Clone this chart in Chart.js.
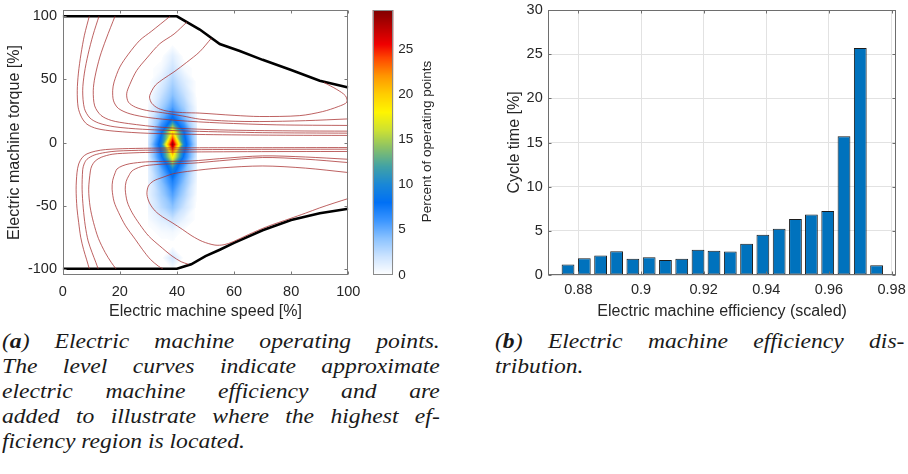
<!DOCTYPE html>
<html>
<head>
<meta charset="utf-8">
<script src="https://cdn.jsdelivr.net/npm/chart.js@4.4.1/dist/chart.umd.min.js"></script>
<style>
  html, body { margin: 0; padding: 0; background: #fff; overflow: hidden; }
  body { width: 908px; height: 474px; position: relative; }
  canvas { position: absolute; top: 0; }
  #mapChart { left: 0; }
  #scaleChart { left: 360px; }
  #histChart { left: 470px; }
  .caption {
    position: absolute;
    font-family: 'Liberation Serif', 'Times New Roman', serif;
    font-style: italic;
    font-size: 20px;
    line-height: 25px;
    color: #1a1a1a;
    transform: scaleX(1.18);
    transform-origin: 0 0;
  }
  .caption .j { text-align: justify; text-align-last: justify; }
</style>
</head>
<body>
<canvas id="mapChart" width="362" height="320"></canvas>
<canvas id="scaleChart" width="100" height="320"></canvas>
<canvas id="histChart" width="438" height="320"></canvas>

<div class="caption" style="left:2px; top:329px; width:371px;">
  <div class="j">(<b>a</b>) Electric machine operating points.</div>
  <div class="j">The level curves indicate approximate</div>
  <div class="j">electric machine efficiency and are</div>
  <div class="j">added to illustrate where the highest ef-</div>
  <div>ficiency region is located.</div>
</div>
<div class="caption" style="left:495px; top:329px; width:347px;">
  <div class="j">(<b>b</b>) Electric machine efficiency dis-</div>
  <div>tribution.</div>
</div>

<script>
// axis ticks
const speedTicks = [0, 20, 40, 60, 80, 100];
const torqueTicks = [-100, -50, 0, 50, 100];
const percentTicks = [0, 5, 10, 15, 20, 25];
const efficiencyTicks = [0.88, 0.9, 0.92, 0.94, 0.96, 0.98];
const cycleTicks = [0, 5, 10, 15, 20, 25, 30];

// torque limits [speed %, torque %]
const torqueLimitUpper = [[0, 100], [40, 100], [48, 89.5], [55, 78], [62, 72.5], [70, 65.5], [80, 57.5], [90, 49], [100, 43.5]];
const torqueLimitLower = [[0, -100], [40, -100], [45, -96.5], [50, -90], [55, -85], [60, -79.5], [70, -69.5], [80, -61.5], [90, -56], [100, -52.5]];

// efficiency level curves [speed %, torque %]
const levelUp1 = [[9.3, 100], [7.6, 85], [6.4, 70], [5.5, 55], [5.1, 41], [5.4, 28], [6.6, 20], [8.5, 14.5], [12, 11], [18, 9], [30, 7.3], [50, 6.3], [75, 5.8], [100, 5.6]];
const levelUp2 = [[12.7, 100], [10.6, 85], [8.9, 70], [7.6, 55], [7, 41], [7.6, 27], [9.5, 19.5], [12.5, 15.5], [18, 12.5], [28, 10.5], [45, 9], [70, 7.8], [100, 7.4]];
const levelUp3 = [[18.3, 100], [15.2, 82], [13, 67.7], [11.3, 52], [10.7, 41], [11.2, 29], [13.4, 21.5], [17, 17.5], [23, 15], [35, 12], [55, 10], [80, 9.2], [100, 9]];
const levelUp4 = [[37.6, 100], [31, 88], [27, 81], [23, 70], [20, 59.8], [18, 48], [17.5, 41.3], [17.8, 33], [19.5, 27], [23.6, 22.7], [30, 19.8], [40, 17.5], [55, 15.5], [75, 14], [100, 13.5]];
const levelUp5 = [[43.5, 95.5], [39, 86], [34, 78.3], [29.5, 67], [25.9, 57], [23.5, 46], [22.4, 38.6], [23, 32], [25.5, 28], [29.4, 25.4], [35, 23.6], [42, 21], [48, 18.5], [58, 17], [69, 16.6], [85, 17.3], [100, 18.7]];
const levelUp6 = [[52, 82.5], [48, 72], [43.4, 63.5], [39, 56], [35.2, 50.3], [32.5, 45.5], [31.2, 41], [30.4, 36], [31.2, 31], [33.5, 27], [37, 24.7], [42, 23.7], [48, 23.3], [60, 21.5], [69, 20.6], [83, 21.3], [91, 24.5], [96.5, 28.5], [99.5, 32], [99, 37], [96, 42], [91.5, 47.5]];
const levelLow1 = [[100, -4], [70, -4.1], [45, -4.2], [23, -4.8], [15, -5.6], [11.4, -6.9], [8.5, -9], [6.8, -12], [5.6, -17], [5, -24], [4.7, -37], [5, -52], [5.6, -63.5], [6.3, -75], [7.3, -84.7], [8.4, -93], [9.3, -100]];
const levelLow2 = [[100, -5.3], [60, -5.5], [28.9, -6.1], [19, -6.8], [14.9, -7.9], [11, -10], [8.5, -13.3], [7.5, -17], [7, -21.5], [6.8, -37], [7.2, -52], [7.9, -66], [8.9, -78], [10.3, -87.3], [11.6, -95], [12.4, -100]];
const levelLow3 = [[100, -7.1], [60, -7.3], [28.9, -7.9], [21, -8.6], [17.3, -9.3], [13.5, -11.7], [11.4, -14.6], [10.2, -18.5], [9.7, -22.5], [9.1, -37], [9.6, -51], [10.8, -63.5], [12.5, -76], [14.9, -87.3], [17, -95], [18.6, -100]];
const levelLow4 = [[100, -13.3], [85, -11.5], [70, -10.6], [55, -12.8], [45.3, -14.6], [35, -15], [28.9, -15.4], [23.5, -16.8], [20.8, -18.6], [19, -21], [18.4, -23.8], [17.5, -30], [17.3, -37], [18, -47], [19.6, -55.6], [22, -66], [25.4, -76.7], [28, -85], [30.7, -92.6], [33.5, -98], [35, -100]];
const levelLow5 = [[100, -15.9], [85, -13.2], [70, -11.9], [55, -14.5], [45.3, -16.4], [34.8, -17.2], [29, -18.3], [26.6, -19.8], [24.3, -22.5], [23.1, -26.5], [22.2, -31], [21.9, -37], [22.6, -47], [24.3, -55.6], [27, -65], [30.1, -74.1], [34, -82], [38.3, -90], [41.5, -94.5], [44, -96.5]];
const levelLow6 = [[100, -23.8], [85, -20.3], [70, -18.6], [55, -20.2], [45.3, -22.5], [39, -24.6], [34.8, -27.8], [31.8, -30.5], [30, -34.5], [29.5, -41], [30.4, -48], [32.4, -54.3], [35, -59], [38.3, -63.5], [42, -69], [45.3, -74.1], [49, -78.5], [53.3, -81.3], [56.5, -81], [59.7, -78.6], [65, -73], [71.4, -66.8], [79.6, -60.3], [85, -56], [90, -51.8], [95, -48], [100, -44.4]];

// operating point density grid: speed nodes, torque nodes, percent of points
const heatSpeed = [30, 34.5, 38.5, 42.5, 47];
const heatTorque = [78.5, 68.5, 58.5, 48.5, 38.5, 28.5, 18.5, 8.5, -1.5, -11.5, -21.5, -31.5, -41.5, -51.5, -61.5, -71.5, -81.5, -91.5, -101.5];
const heatPercent = [
  [0, 0, 0, 0, 0],
  [0, 0, 1.2, 0, 0],
  [0, 0.4, 2, 0.4, 0],
  [0, 1.2, 3, 1.4, 0],
  [0, 2, 4, 2.2, 0],
  [0.4, 3, 5.5, 3.2, 0.3],
  [0.8, 4.8, 8.5, 4.8, 0.6],
  [1.4, 7.5, 19, 8, 1.4],
  [2, 9.5, 29, 9.5, 2],
  [1.4, 7.5, 18.5, 7.5, 1.4],
  [1, 5, 9.5, 5, 0.8],
  [0.9, 4, 7, 4, 0.5],
  [0.9, 3.2, 5.5, 3, 0.2],
  [0.7, 2.5, 4, 2, 0],
  [0.3, 1.2, 2, 0.8, 0],
  [0, 0.3, 0.5, 0, 0],
  [0, 0, 0, 0, 0],
  [0, 0, 1.8, 0, 0],
  [0, 0, 0, 0, 0]
];

// efficiency histogram
const efficiencyBins = [0.8767, 0.8819, 0.8871, 0.8922, 0.8974, 0.9026, 0.9078, 0.9130, 0.9182, 0.9233, 0.9285, 0.9337, 0.9389, 0.9441, 0.9493, 0.9544, 0.9596, 0.9648, 0.9700, 0.9752];
const cycleTimeShare = [1.2, 1.9, 2.2, 2.7, 1.85, 2.0, 1.7, 1.85, 2.85, 2.75, 2.65, 3.55, 4.55, 5.25, 6.35, 6.85, 7.25, 15.7, 25.7, 1.1];

// white -> blue -> jet colour map
const colorStops = [
  [0, [255, 255, 255]], [2, [205, 228, 255]], [4, [140, 195, 255]], [6, [60, 150, 255]],
  [8, [0, 112, 245]], [10, [25, 135, 215]], [12, [65, 162, 165]], [14, [135, 192, 105]],
  [16, [205, 225, 50]], [18, [255, 245, 0]], [20, [255, 205, 0]], [22, [255, 150, 0]],
  [24, [255, 70, 0]], [25.5, [240, 0, 0]], [29.3, [128, 0, 0]]
];

function percentColor(v) {
  if (v <= colorStops[0][0]) return 'rgb(255,255,255)';
  for (let k = 1; k < colorStops.length; k++) {
    const [v1, c1] = colorStops[k];
    if (v <= v1) {
      const [v0, c0] = colorStops[k - 1];
      const t = (v - v0) / (v1 - v0);
      const c = c0.map((ch, n) => Math.round(ch + (c1[n] - ch) * t));
      return `rgb(${c[0]},${c[1]},${c[2]})`;
    }
  }
  const c = colorStops[colorStops.length - 1][1];
  return `rgb(${c[0]},${c[1]},${c[2]})`;
}

// piecewise linear on triangles, diagonal chosen away from the larger corner
function sampleHeat(s, t) {
  const nx = heatSpeed.length, ny = heatTorque.length;
  if (s <= heatSpeed[0] || s >= heatSpeed[nx - 1]) return 0;
  if (t >= heatTorque[0] || t <= heatTorque[ny - 1]) return 0;
  let i = 0; while (s > heatSpeed[i + 1]) i++;
  let j = 0; while (t < heatTorque[j + 1]) j++;
  const u = (s - heatSpeed[i]) / (heatSpeed[i + 1] - heatSpeed[i]);
  const w = (heatTorque[j] - t) / (heatTorque[j] - heatTorque[j + 1]);
  const a = heatPercent[j][i], b = heatPercent[j][i + 1];
  const c = heatPercent[j + 1][i], d = heatPercent[j + 1][i + 1];
  if (Math.max(a, d) >= Math.max(b, c)) {
    return (u + w <= 1) ? a + (b - a) * u + (c - a) * w
                        : d + (c - d) * (1 - u) + (b - d) * (1 - w);
  }
  return (u >= w) ? a + (b - a) * u + (d - b) * w
                  : a + (c - a) * w + (d - c) * u;
}

Chart.defaults.font.family = "'Liberation Sans', Arial, sans-serif";
Chart.defaults.color = '#262626';

const frameAndTicks = {
  id: 'frameAndTicks',
  afterDraw(chart, args, opts) {
    const { ctx, chartArea: a } = chart;
    const len = opts.tickLength || 0;
    const L = Math.round(a.left) + 0.5, R = Math.round(a.right) - 0.5;
    const T = Math.round(a.top) + 0.5, B = Math.round(a.bottom) - 0.5;
    ctx.save();
    ctx.strokeStyle = opts.color || '#6e6e6e';
    ctx.lineWidth = 1;
    ctx.strokeRect(L, T, R - L, B - T);
    if (len > 0) {
      ctx.beginPath();
      Object.values(chart.scales).forEach(s => {
        if (!s.options.display) return;
        s.ticks.forEach(tk => {
          const p = Math.round(s.getPixelForValue(tk.value)) + 0.5;
          if (s.isHorizontal()) {
            ctx.moveTo(p, B); ctx.lineTo(p, B - len);
            ctx.moveTo(p, T); ctx.lineTo(p, T + len);
          } else {
            ctx.moveTo(L, p); ctx.lineTo(L + len, p);
            ctx.moveTo(R, p); ctx.lineTo(R - len, p);
          }
        });
      });
      ctx.stroke();
    }
    ctx.restore();
  }
};

const heatLayer = {
  id: 'heatLayer',
  beforeDatasetsDraw(chart) {
    const { ctx, chartArea: a, scales: { x, y } } = chart;
    const px0 = Math.floor(x.getPixelForValue(heatSpeed[0]));
    const px1 = Math.ceil(x.getPixelForValue(heatSpeed[heatSpeed.length - 1]));
    const py0 = Math.max(Math.floor(a.top), Math.floor(y.getPixelForValue(heatTorque[0])));
    const py1 = Math.min(Math.ceil(a.bottom), Math.ceil(y.getPixelForValue(heatTorque[heatTorque.length - 1])));
    ctx.save();
    for (let py = py0; py < py1; py++) {
      const tv = y.getValueForPixel(py + 0.5);
      for (let px = px0; px < px1; px++) {
        const v = sampleHeat(x.getValueForPixel(px + 0.5), tv);
        if (v < 0.15) continue;
        ctx.fillStyle = percentColor(v);
        ctx.fillRect(px, py, 1, 1);
      }
    }
    ctx.restore();
  }
};

const colorScaleBar = {
  id: 'colorScaleBar',
  beforeDatasetsDraw(chart) {
    const { ctx, chartArea: a, scales: { y } } = chart;
    ctx.save();
    for (let py = Math.floor(a.top); py < Math.ceil(a.bottom); py++) {
      ctx.fillStyle = percentColor(y.getValueForPixel(py + 0.5));
      ctx.fillRect(a.left, py, a.width, 1);
    }
    ctx.restore();
  },
  afterDraw(chart) {
    const { ctx, chartArea: a } = chart;
    ctx.save();
    ctx.translate(a.right + 34, (a.top + a.bottom) / 2 - 1);
    ctx.rotate(-Math.PI / 2);
    ctx.font = "13.5px 'Liberation Sans', Arial, sans-serif";
    ctx.fillStyle = '#262626';
    ctx.textAlign = 'center';
    ctx.textBaseline = 'middle';
    ctx.fillText('Percent of operating points', 0, 0);
    ctx.restore();
  }
};

const toPoints = pts => pts.map(([x, y]) => ({ x, y }));
const fixTicks = list => scale => { scale.ticks = list.map(v => ({ value: v })); };
const fixWidth = w => scale => { scale.width = w; scale.paddingTop = 0; scale.paddingBottom = 0; };
const fixHeight = h => scale => { scale.height = h; scale.paddingLeft = 0; scale.paddingRight = 0; };

const levelCurves = [levelUp1, levelUp2, levelUp3, levelUp4, levelUp5, levelUp6,
                     levelLow1, levelLow2, levelLow3, levelLow4, levelLow5, levelLow6];

const mapDatasets = levelCurves.map(c => ({
  data: toPoints(c), showLine: true, pointRadius: 0, fill: false,
  borderColor: 'rgba(168,48,48,0.85)', borderWidth: 0.9, tension: 0.3
}));
[torqueLimitUpper, torqueLimitLower].forEach(c => mapDatasets.push({
  data: toPoints(c), showLine: true, pointRadius: 0, fill: false,
  borderColor: '#000', borderWidth: 2.6, tension: 0
}));

new Chart(document.getElementById('mapChart'), {
  type: 'scatter',
  data: { datasets: mapDatasets },
  options: {
    responsive: false, animation: false, devicePixelRatio: 1,
    layout: { padding: { left: 0, top: 10, right: 13.7, bottom: 0 } },
    plugins: { legend: { display: false }, tooltip: { enabled: false },
               frameAndTicks: { tickLength: 3, color: '#7a7a7a' } },
    scales: {
      x: {
        type: 'linear', min: 0, max: 100,
        afterBuildTicks: fixTicks(speedTicks), afterFit: fixHeight(45),
        grid: { display: false, drawTicks: false }, border: { display: false },
        ticks: { padding: 8, maxRotation: 0, autoSkip: false, font: { size: 14.5 } },
        title: { display: true, text: 'Electric machine speed [%]', font: { size: 16, lineHeight: 1 }, padding: 0 }
      },
      y: {
        type: 'linear', min: -105, max: 105,
        afterBuildTicks: fixTicks(torqueTicks), afterFit: fixWidth(62.7),
        grid: { display: false, drawTicks: false }, border: { display: false },
        ticks: { padding: 5.7, autoSkip: false, font: { size: 14.5 } },
        title: { display: true, text: 'Electric machine torque [%]', font: { size: 16, lineHeight: 1 }, padding: { top: 7, bottom: 0 } }
      }
    }
  },
  plugins: [heatLayer, frameAndTicks]
});

new Chart(document.getElementById('scaleChart'), {
  type: 'scatter',
  data: { datasets: [] },
  options: {
    responsive: false, animation: false, devicePixelRatio: 1,
    layout: { padding: { left: 12.7, top: 10, right: 0, bottom: 45 } },
    plugins: { legend: { display: false }, tooltip: { enabled: false },
               frameAndTicks: { tickLength: 0, color: '#8a8a8a' } },
    scales: {
      x: { display: false, min: 0, max: 1 },
      y: {
        position: 'right', min: 0, max: 29.3,
        afterBuildTicks: fixTicks(percentTicks), afterFit: fixWidth(66.7),
        grid: { display: false, drawTicks: false }, border: { display: false },
        ticks: { padding: 5, autoSkip: false, font: { size: 13.5 } }
      }
    }
  },
  plugins: [colorScaleBar, frameAndTicks]
});

new Chart(document.getElementById('histChart'), {
  type: 'bar',
  data: {
    datasets: [{
      data: efficiencyBins.map((x, i) => ({ x, y: cycleTimeShare[i] })),
      backgroundColor: '#0072bd', borderColor: '#1c1c1c', borderWidth: 1,
      borderSkipped: false, barPercentage: 0.8, categoryPercentage: 1
    }]
  },
  options: {
    responsive: false, animation: false, devicePixelRatio: 1,
    layout: { padding: { left: 0, top: 10, right: 12, bottom: 0 } },
    plugins: { legend: { display: false }, tooltip: { enabled: false },
               frameAndTicks: { tickLength: 3, color: '#6e6e6e' } },
    scales: {
      x: {
        type: 'linear', min: 0.8704, max: 0.9814, offset: false,
        afterBuildTicks: fixTicks(efficiencyTicks), afterFit: fixHeight(45),
        grid: { offset: false, color: '#e2e2e2', drawTicks: false }, border: { display: false },
        ticks: { padding: 6.3, maxRotation: 0, autoSkip: false, font: { size: 14.5 },
                 callback: v => String(+v.toFixed(2)) },
        title: { display: true, text: 'Electric machine efficiency (scaled)', font: { size: 16, lineHeight: 1 }, padding: 0 }
      },
      y: {
        type: 'linear', min: 0, max: 30,
        afterBuildTicks: fixTicks(cycleTicks), afterFit: fixWidth(78.3),
        grid: { color: '#e2e2e2', drawTicks: false }, border: { display: false },
        ticks: { padding: 5.6, autoSkip: false, font: { size: 14.5 } },
        title: { display: true, text: 'Cycle time [%]', font: { size: 16, lineHeight: 1 }, padding: { top: 36.5, bottom: 0 } }
      }
    }
  },
  plugins: [frameAndTicks]
});
</script>
</body>
</html>
